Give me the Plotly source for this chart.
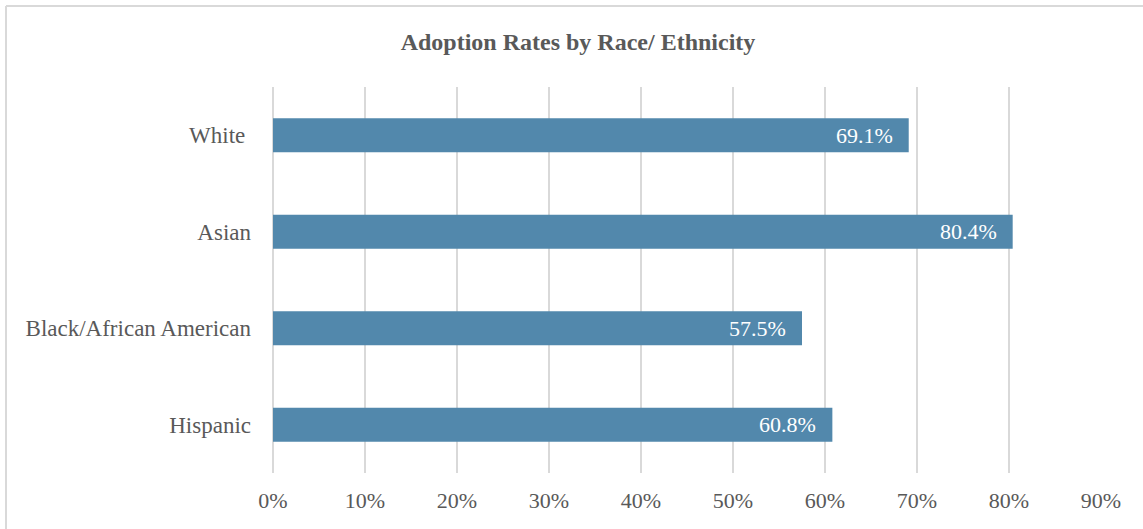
import plotly.graph_objects as go

categories = ["Hispanic", "Black/African American", "Asian", "White "]
rates = [0.608, 0.575, 0.804, 0.691]
tick_vals = [0, 0.1, 0.2, 0.3, 0.4, 0.5, 0.6, 0.7, 0.8, 0.9]
title_text = "Adoption Rates by Race/ Ethnicity"

FONT = "Liberation Serif"
GREY = "#595959"
BAR = "#5288AC"

fig = go.Figure()
fig.add_trace(go.Bar(
    x=rates, y=categories, orientation="h",
    marker=dict(color=BAR, line=dict(width=0)),
    width=0.35, hoverinfo="skip",
))
for c, v in zip(categories, rates):
    fig.add_annotation(
        x=v, y=c, xref="x", yref="y", text=f"{v*100:.1f}%",
        showarrow=False, xanchor="right", yanchor="middle", xshift=-14,
        font=dict(family=FONT, size=22, color="white"),
    )

bx0 = (6 - 273) / 828
bx1 = (1143 - 273) / 828
by_top = (529 - 6 - 56) / 386
by_bot = -1
border = dict(color="#D9D9D9", width=2)

fig.update_layout(
    width=1143, height=529,
    margin=dict(l=273, r=42, t=87, b=56),
    paper_bgcolor="white", plot_bgcolor="white",
    showlegend=False,
    title=dict(text=f"<b>{title_text}</b>", x=578 / 1143, xref="container", xanchor="center",
               y=1 - 42 / 529, yref="container", yanchor="middle",
               font=dict(family=FONT, size=24, color=GREY)),
    xaxis=dict(range=[0, 0.9], tickvals=tick_vals, tickformat=".0%",
               showgrid=True, gridcolor="#D9D9D9", gridwidth=2,
               zeroline=True, zerolinecolor="#D9D9D9", zerolinewidth=2,
               showline=False, ticks="",
               tickfont=dict(family=FONT, size=22, color=GREY),
               ticklabelstandoff=12, fixedrange=True),
    yaxis=dict(categoryorder="array", categoryarray=categories,
               range=[-0.5, 3.5],
               showgrid=False, zeroline=False, showline=False, ticks="",
               tickfont=dict(family=FONT, size=23, color=GREY),
               ticklabelstandoff=21, fixedrange=True),
    shapes=[
        dict(type="line", xref="paper", yref="paper", x0=bx0, x1=bx1,
             y0=by_top, y1=by_top, line=border, layer="below"),
        dict(type="line", xref="paper", yref="paper", x0=bx0, x1=bx0,
             y0=by_bot, y1=by_top, line=border, layer="below"),
    ],
)
fig.write_html("out.html", config={"displayModeBar": False},
               post_script="document.body.style.margin='0px';document.body.style.overflow='hidden';")
